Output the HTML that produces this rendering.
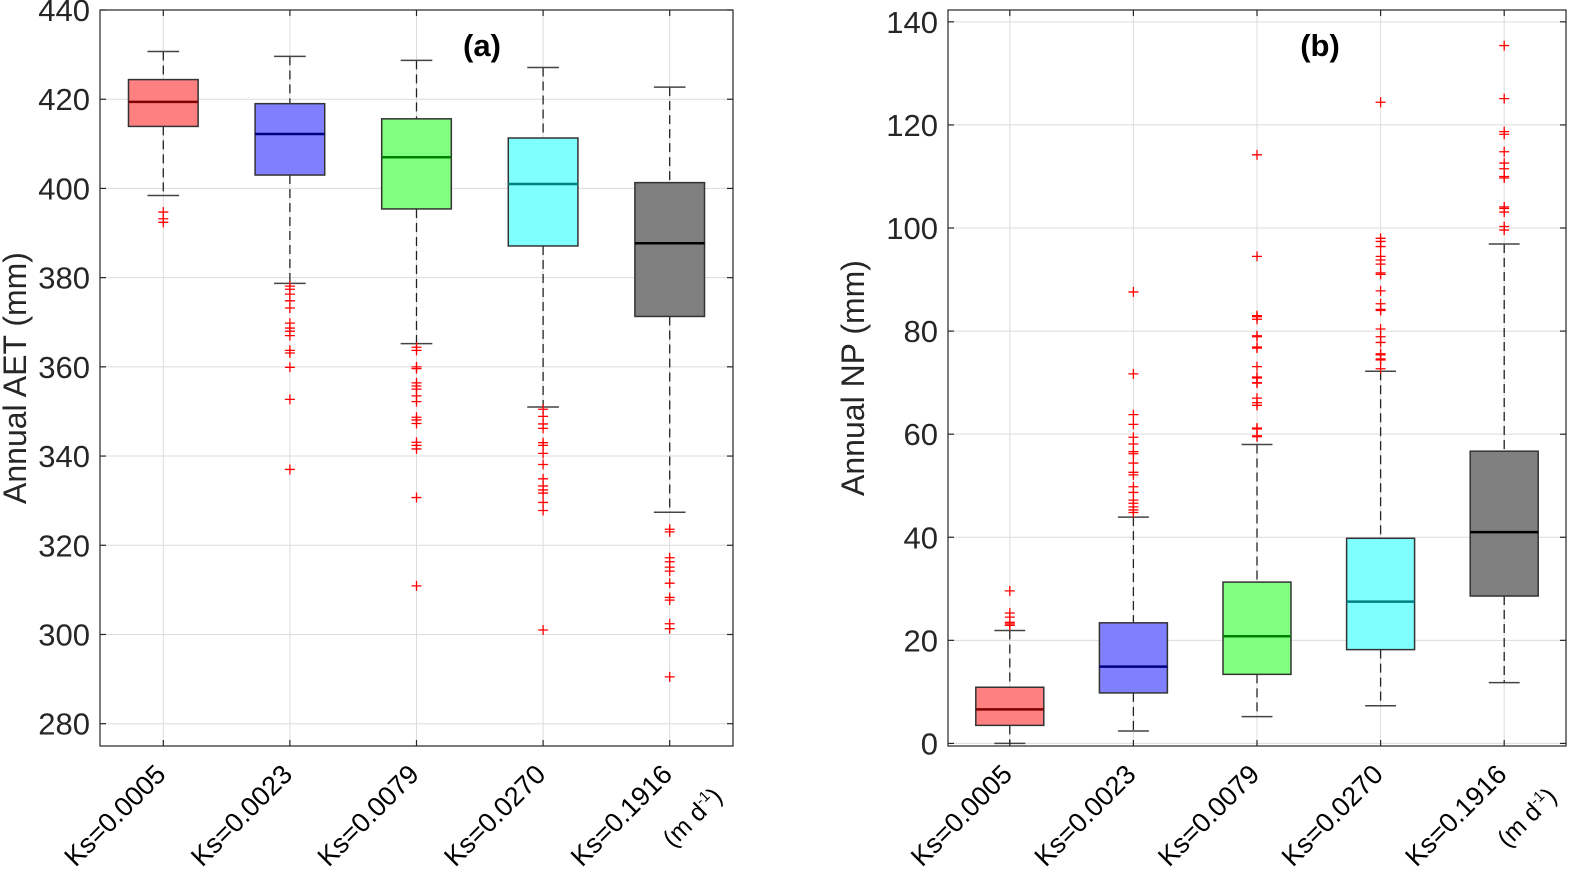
<!DOCTYPE html>
<html><head><meta charset="utf-8">
<style>
html,body{margin:0;padding:0;background:#fff;}
svg{display:block;font-family:"Liberation Sans",Arial,sans-serif;}
</style></head>
<body>
<svg id="chart" width="1587" height="871" viewBox="0 0 1587 871" xmlns="http://www.w3.org/2000/svg"></svg>
<script>
// ---- data ----
const categories = ["Ks=0.0005","Ks=0.0023","Ks=0.0079","Ks=0.0270","Ks=0.1916"];
const aetWhiskerHigh = [430.7,429.6,428.7,427.1,422.7];
const aetQ3 = [424.4,419.0,415.6,411.3,401.3];
const aetMedian = [419.4,412.2,407.0,401.0,387.7];
const aetQ1 = [413.9,403.0,395.4,387.1,371.3];
const aetWhiskerLow = [398.4,378.7,365.2,351.0,327.4];
const aetOutliers = [
 [394.7,393.2,392.4],
 [378.1,377.4,376.3,374.8,373.2,369.8,368.7,368.0,367.0,363.7,363.1,359.9,352.7,337.0],
 [364.4,363.7,360.0,359.6,356.4,355.7,355.0,353.5,352.2,348.7,348.1,347.3,343.1,342.4,341.6,330.7,310.9],
 [350.5,348.9,347.2,346.2,343.0,342.4,340.6,338.1,334.9,333.3,332.4,331.7,329.6,327.8,301.0],
 [323.6,323.0,317.2,316.3,315.1,314.2,311.5,308.3,307.7,302.4,301.3,290.5]
];
const aetTicks = [280,300,320,340,360,380,400,420,440];

const npWhiskerHigh = [21.9,43.9,58.0,72.2,96.9];
const npQ3 = [10.9,23.4,31.3,39.8,56.7];
const npMedian = [6.6,14.9,20.8,27.5,41.0];
const npQ1 = [3.5,9.8,13.4,18.2,28.6];
const npWhiskerLow = [0.0,2.4,5.2,7.3,11.8];
const npOutliers = [
 [29.6,25.3,24.5,23.5,23.2,22.9],
 [87.6,71.7,63.8,61.9,59.4,58.1,56.6,56.2,54.4,52.6,52.1,49.8,48.7,47.2,46.6,45.9,45.3,44.8],
 [114.2,94.5,83.0,82.8,82.3,79.1,78.9,76.9,76.7,73.1,71.1,69.9,70.9,70.0,67.0,66.1,65.6,61.2,61.0,59.7,59.5],
 [124.4,98.0,97.4,96.4,94.5,93.8,93.0,91.3,91.0,87.8,85.3,84.2,84.0,80.4,78.9,77.8,75.6,75.4,74.6,74.4,72.7],
 [135.4,125.1,118.7,118.2,114.8,112.6,111.5,110.0,109.7,104.1,103.8,103.1,100.3,99.6]
];
const npTicks = [0,20,40,60,80,100,120,140];

const fills = ["#ff8080","#8080ff","#80ff80","#80ffff","#808080"];
const medCols = ["#800000","#000080","#008000","#008080","#000000"];

const NS="http://www.w3.org/2000/svg";
const svg=document.getElementById('chart');
function mk(tag,attrs,parent){const e=document.createElementNS(NS,tag);for(const k in attrs)e.setAttribute(k,attrs[k]);(parent||svg).appendChild(e);return e;}

function panel(cfg){
  const g=mk('g',{});
  
  
  const L=cfg.left,R=cfg.right,T=10,B=746;
  const y=v=>B-(v-cfg.ymin)/(cfg.ymax-cfg.ymin)*(B-T);
  const step=(R-L)/categories.length;
  const x=i=>L+step*(i+0.5);
  cfg.ticks.forEach(t=>{
    const l=mk('line',{x1:L,x2:R,y1:y(t),y2:y(t),stroke:'#dcdcdc','stroke-width':1},g);
    
    
  });
  categories.forEach((c,i)=>{
    const l=mk('line',{x1:x(i),x2:x(i),y1:T,y2:B,stroke:'#dcdcdc','stroke-width':1},g);
    
    
  });
  const bw=step*0.55, cw=step*0.25;
  categories.forEach((c,i)=>{
    const bg=mk('g',{},g);
    
    
    const cx=x(i);
    mk('line',{x1:cx,x2:cx,y1:y(cfg.wh[i]),y2:y(cfg.q3[i]),stroke:'#222','stroke-width':1.3,'stroke-dasharray':'9,5'},bg);
    mk('line',{x1:cx,x2:cx,y1:y(cfg.q1[i]),y2:y(cfg.wl[i]),stroke:'#222','stroke-width':1.3,'stroke-dasharray':'9,5'},bg);
    mk('line',{x1:cx-cw/2,x2:cx+cw/2,y1:y(cfg.wh[i]),y2:y(cfg.wh[i]),stroke:'#444','stroke-width':1.5},bg);
    mk('line',{x1:cx-cw/2,x2:cx+cw/2,y1:y(cfg.wl[i]),y2:y(cfg.wl[i]),stroke:'#444','stroke-width':1.5},bg);
    mk('rect',{x:cx-bw/2,y:y(cfg.q3[i]),width:bw,height:y(cfg.q1[i])-y(cfg.q3[i]),fill:fills[i],stroke:'#333','stroke-width':1.5},bg);
    mk('line',{x1:cx-bw/2,x2:cx+bw/2,y1:y(cfg.med[i]),y2:y(cfg.med[i]),stroke:medCols[i],'stroke-width':2.5},bg);
    cfg.out[i].forEach(v=>{
      const p=mk('path',{d:`M${cx-5},${y(v)}h10M${cx},${y(v)-5}v10`,stroke:'#ff0000','stroke-width':1.3,fill:'none'},bg);
      
      
    });
  });
  const ax=mk('rect',{x:L,y:T,width:R-L,height:B-T,fill:'none',stroke:'#262626','stroke-width':1.2},g);
  
  
  cfg.ticks.forEach(t=>{
    mk('line',{x1:L,x2:L+6,y1:y(t),y2:y(t),stroke:'#262626','stroke-width':1.2},g);
    mk('line',{x1:R-6,x2:R,y1:y(t),y2:y(t),stroke:'#262626','stroke-width':1.2},g);
    const tl=mk('text',{x:L-10,y:y(t)+11,'text-anchor':'end','font-size':31,fill:'#262626'},g);
    tl.textContent=t;
    
    
  });
  categories.forEach((c,i)=>{
    mk('line',{x1:x(i),x2:x(i),y1:B,y2:B-6,stroke:'#262626','stroke-width':1.2},g);
    mk('line',{x1:x(i),x2:x(i),y1:T,y2:T+6,stroke:'#262626','stroke-width':1.2},g);
    const tx=x(i)+4, ty=B+30;
    const t=mk('text',{x:0,y:0,'text-anchor':'end','font-size':27,fill:'#000',transform:`translate(${tx},${ty}) rotate(-45)`},g);
    t.textContent=c;
    
    
    if(i===categories.length-1){
      const u=mk('text',{x:0,y:0,'text-anchor':'end','font-size':25,fill:'#000',transform:`translate(${tx+50},${ty+22}) rotate(-45)`},g);
      u.innerHTML='(m d<tspan font-size="15" dy="-10">-1</tspan><tspan dy="10">)</tspan>';
      
      
    }
  });
  const yt=mk('text',{x:0,y:0,'text-anchor':'middle','font-size':32,fill:'#262626',transform:`translate(${cfg.titleX},${(T+B)/2}) rotate(-90)`},g);
  yt.textContent=cfg.ytitle;
  
  
  const pt=mk('text',{x:cfg.labelX,y:56,'text-anchor':'middle','font-size':31,'font-weight':'bold',fill:'#000'},g);
  pt.textContent=cfg.label;
  
  
}

panel({name:'panel-a-aet',left:100,right:733,ymin:275,ymax:440,ticks:aetTicks,
  wh:aetWhiskerHigh,q3:aetQ3,med:aetMedian,q1:aetQ1,wl:aetWhiskerLow,out:aetOutliers,
  ytitle:'Annual AET (mm)',titleX:26,label:'(a)',labelX:482});
panel({name:'panel-b-np',left:948,right:1566,ymin:-0.5,ymax:142.3,ticks:npTicks,
  wh:npWhiskerHigh,q3:npQ3,med:npMedian,q1:npQ1,wl:npWhiskerLow,out:npOutliers,
  ytitle:'Annual NP (mm)',titleX:864,label:'(b)',labelX:1320});
</script>
</body></html>
